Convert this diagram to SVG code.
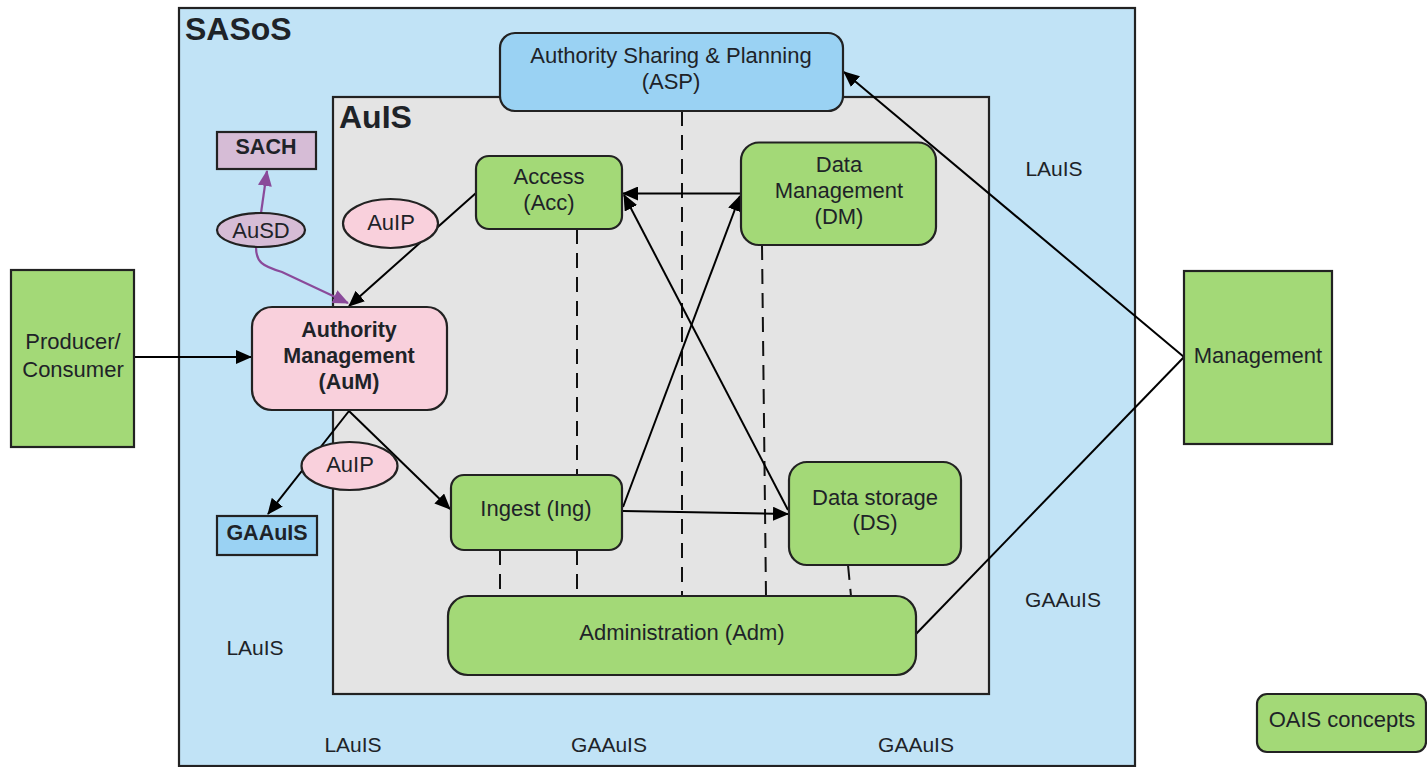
<svg xmlns="http://www.w3.org/2000/svg" width="1427" height="767" viewBox="0 0 1427 767">
<style>
text{font-family:"Liberation Sans",Arial,sans-serif;font-size:22px;fill:#1e2328;text-anchor:middle}
.lb{font-size:21px}
.b{font-weight:bold;font-size:21.5px}
.big{font-size:32px;font-weight:bold;text-anchor:start}
.box{stroke:#222;stroke-width:2.2}
.g{fill:#a3d977}
.blue{fill:#9ad2f3}
.pink{fill:#f9d0dc}
.mauve{fill:#d6bcd6}
.ln{stroke:#000;stroke-width:2;fill:none}
.pl{stroke:#8a4a9a;stroke-width:2.2;fill:none}
.dash{stroke:#111;stroke-width:2;stroke-dasharray:15 9;fill:none}
</style>
<defs>
<marker id="ah" markerUnits="userSpaceOnUse" markerWidth="16" markerHeight="14" refX="15" refY="7" orient="auto"><path d="M0,0 L16,7 L0,14 z" fill="#000"/></marker>
<marker id="ap" markerUnits="userSpaceOnUse" markerWidth="16" markerHeight="14" refX="15" refY="7" orient="auto"><path d="M0,0 L16,7 L0,14 z" fill="#8a4a9a"/></marker>
</defs>
<rect width="1427" height="767" fill="#fff"/>
<g id="sasos"><rect class="box" x="179" y="8" width="956" height="758" fill="#c1e3f6"/><text class="big" x="185" y="40">SASoS</text></g>
<g id="auis"><rect class="box" x="333" y="97" width="656" height="597" fill="#e4e4e4"/><text class="big" x="339" y="128">AuIS</text></g>
<g id="labels">
<text class="lb" x="1054" y="176">LAuIS</text>
<text class="lb" x="1063" y="607">GAAuIS</text>
<text class="lb" x="255" y="655">LAuIS</text>
<text class="lb" x="353" y="752">LAuIS</text>
<text class="lb" x="609" y="752">GAAuIS</text>
<text class="lb" x="916" y="752">GAAuIS</text>
</g>
<g id="connectors">
<line class="dash" x1="682" y1="111" x2="682" y2="596"/>
<line class="dash" x1="577" y1="229" x2="577" y2="475"/>
<line class="dash" x1="577" y1="550" x2="577" y2="596"/>
<line class="dash" x1="500" y1="550" x2="500" y2="596"/>
<line class="dash" x1="762" y1="245" x2="766" y2="596"/>
<line class="dash" x1="848" y1="565" x2="851" y2="596"/>
<line class="ln" x1="134" y1="357" x2="251" y2="357" marker-end="url(#ah)"/>
<line class="ln" x1="476" y1="193" x2="349" y2="306" marker-end="url(#ah)"/>
<line class="ln" x1="349" y1="411" x2="268" y2="514" marker-end="url(#ah)"/>
<line class="ln" x1="349" y1="411" x2="450" y2="509" marker-end="url(#ah)"/>
<line class="ln" x1="741" y1="193.5" x2="623" y2="193.5" marker-end="url(#ah)"/>
<line class="ln" x1="623" y1="507" x2="740" y2="196" marker-end="url(#ah)"/>
<line class="ln" x1="788" y1="510" x2="624" y2="195" marker-end="url(#ah)"/>
<line class="ln" x1="623" y1="511" x2="788" y2="514" marker-end="url(#ah)"/>
<line class="ln" x1="1184" y1="357" x2="844" y2="72" marker-end="url(#ah)"/>
<line class="ln" x1="916" y1="634" x2="1184" y2="357"/>
<line class="pl" x1="261" y1="213" x2="267" y2="171" marker-end="url(#ap)"/>
<path class="pl" d="M256,247 C256,262 262,266 282,272 L348,303" marker-end="url(#ap)"/>
</g>
<g id="asp"><rect class="box blue" x="500" y="33" width="343" height="78" rx="15"/><text x="671" y="63">Authority Sharing &amp; Planning</text><text x="671" y="89">(ASP)</text></g>
<g id="sach"><rect class="box mauve" x="217" y="132" width="99" height="37"/><text class="b" x="266" y="154">SACH</text></g>
<g id="ausd"><ellipse class="box mauve" cx="261" cy="230" rx="44" ry="17"/><text x="261" y="238">AuSD</text></g>
<g id="auip1"><ellipse class="box pink" cx="390.5" cy="223.5" rx="47.5" ry="24.5"/><text x="391" y="230">AuIP</text></g>
<g id="acc"><rect class="box g" x="476" y="156" width="146" height="73" rx="13"/><text x="549" y="184">Access</text><text x="549" y="210">(Acc)</text></g>
<g id="dm"><rect class="box g" x="741" y="142.5" width="195" height="102.5" rx="18"/><text x="839" y="172">Data</text><text x="839" y="198">Management</text><text x="839" y="224">(DM)</text></g>
<g id="producer"><rect class="box g" x="11" y="270" width="123" height="177"/><text x="73" y="349">Producer/</text><text x="73" y="377">Consumer</text></g>
<g id="aum"><rect class="box pink" x="252" y="307" width="195" height="103" rx="20"/><text class="b" x="349" y="337">Authority</text><text class="b" x="349" y="363">Management</text><text class="b" x="349" y="389">(AuM)</text></g>
<g id="auip2"><ellipse class="box pink" cx="349.5" cy="466" rx="48" ry="24"/><text x="350" y="472">AuIP</text></g>
<g id="gaauis"><rect class="box blue" x="217" y="516" width="100" height="39"/><text class="b" x="267" y="540">GAAuIS</text></g>
<g id="ing"><rect class="box g" x="451" y="475" width="171" height="75" rx="13"/><text x="536" y="516">Ingest (Ing)</text></g>
<g id="ds"><rect class="box g" x="789" y="462" width="172" height="103" rx="18"/><text x="875" y="505">Data storage</text><text x="875" y="530">(DS)</text></g>
<g id="adm"><rect class="box g" x="448" y="596" width="468" height="79" rx="20"/><text x="682" y="640">Administration (Adm)</text></g>
<g id="mgmt"><rect class="box g" x="1184" y="271" width="148" height="173"/><text x="1258" y="363">Management</text></g>
<g id="oais"><rect class="box g" x="1257" y="694" width="169" height="58" rx="10"/><text x="1342" y="727">OAIS concepts</text></g>
</svg>
